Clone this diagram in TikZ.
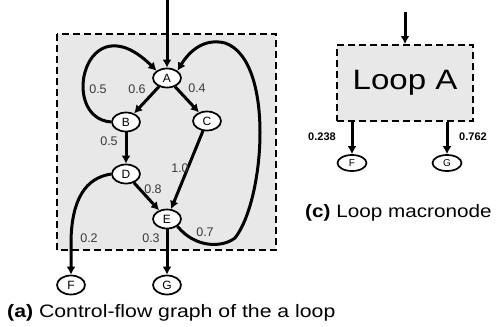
\documentclass[tikz,border=0pt]{standalone}
\usepackage{fontspec}
\setmainfont{Liberation Sans}
\usepackage{xcolor}
\definecolor{boxgray}{HTML}{E8E8E8}
\definecolor{labelgray}{HTML}{3A3A3A}
\usetikzlibrary{arrows.meta, shapes.geometric}
\newcommand{\widen}[2]{\scalebox{#1}[1]{#2}}

\begin{document}
\begin{tikzpicture}[x=1pt, y=-1pt,
    block/.style={ellipse, draw, line width=1.7pt, fill=white, inner sep=0pt,
                  minimum width=28pt, minimum height=19pt, font=\fontsize{12}{12}\selectfont},
    smallblock/.style={block, minimum width=29pt, minimum height=16pt, font=\fontsize{10}{10}\selectfont},
    flow/.style={line width=3pt, -{Latex[length=8pt, width=9pt]}},
    region/.style={fill=boxgray, line width=2pt, dash pattern=on 7pt off 4pt},
    prob/.style={text=labelgray, font=\fontsize{12.5}{12.5}\selectfont},
    boldprob/.style={font=\fontsize{11}{11}\selectfont\bfseries},
    caption/.style={anchor=west, inner sep=0pt, font=\fontsize{18}{18}\selectfont}
]
  \useasboundingbox (0,0) rectangle (504,327);

  % Schleifenbereich (a)
  \draw[region] (57,34) rectangle (276,250);

  % Knoten des Kontrollflussgraphen
  \node[block] (A) at (167,78) {A};
  \node[block] (B) at (126,122) {B};
  \node[block] (C) at (207,121) {C};
  \node[block] (D) at (126,174) {D};
  \node[block] (E) at (167,219) {E};
  \node[block] (F) at (71,285) {F};
  \node[block] (G) at (167,285) {G};
  \coordinate (entry) at (167,0);

  % Kanten
  \draw[flow] (entry) -- (A);
  \draw[flow] (A) -- (B);
  \draw[flow] (A) -- (C);
  \draw[flow] (B) -- (D);
  \draw[flow] (C) -- (E);
  \draw[flow] (D) -- (E);
  \draw[flow] (E) -- (G);
  \draw[flow] (B.west) .. controls (58,118) and (85,0) .. (A.north west);
  \draw[flow] (E.south east) .. controls (195,248) and (222,248) .. (235,238)
      .. controls (265,200) and (275,60) .. (225,43)
      .. controls (205,38) and (190,50) .. (A.north east);
  \draw[flow] (D.west) .. controls (85,178) and (72,200) .. (71,240) -- (F.north);

  % Wahrscheinlichkeiten
  \node[prob] (pba) at (98,89) {0.5};
  \node[prob] (pab) at (137,89) {0.6};
  \node[prob] (pac) at (197,88) {0.4};
  \node[prob] (pbd) at (109,141) {0.5};
  \node[prob] (pce) at (180,168) {1.0};
  \node[prob] (pde) at (153,189) {0.8};
  \node[prob] (pdf) at (89,238) {0.2};
  \node[prob] (peg) at (151,238) {0.3};
  \node[prob] (pea) at (205,232) {0.7};

  \node[caption] (capa) at (7,313) {\widen{1.18}{\textbf{(a)} Control-flow graph of the a loop}};

  % Makroknoten (c)
  \node[draw, region, minimum width=136pt, minimum height=76pt,
        font=\fontsize{28}{28}\selectfont] (loop) at (405,83) {\widen{1.18}{Loop A}};
  \coordinate (loopentry) at (405,12);
  \node[smallblock] (F2) at (352,163) {F};
  \node[smallblock] (G2) at (447,163) {G};

  \draw[flow] (loopentry) -- (loop.north);
  \draw[flow] (F2 |- loop.south) -- (F2);
  \draw[flow] (G2 |- loop.south) -- (G2);

  \node[boldprob] (pf) at (322,137) {0.238};
  \node[boldprob] (pg) at (473,137) {0.762};

  \node[caption] (capc) at (305,213) {\widen{1.15}{\textbf{(c)} Loop macronode}};
\end{tikzpicture}
\end{document}
